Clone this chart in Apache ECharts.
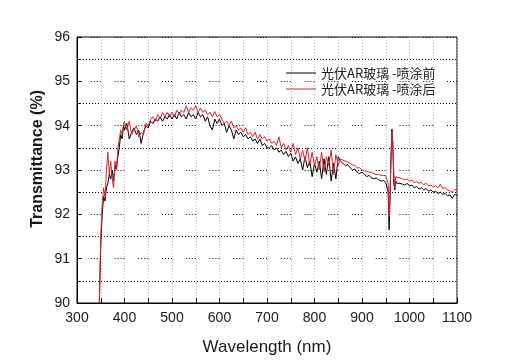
<!DOCTYPE html>
<html><head><meta charset="utf-8">
<script src="https://cdn.jsdelivr.net/npm/echarts@6/dist/echarts.min.js"></script>
<style>html,body{margin:0;padding:0;background:#fff;}#c{width:511px;height:361px;}</style>
</head><body><div id="c"></div>
<script>
var wavelengths = [347,350,353,356,359,362,365,368,371,374,377,380,383,386,389,392,395,398,
400,405,410,415,420,425,430,435,440,445,450,455,460,465,470,475,480,485,490,495,500,
505,510,515,520,525,530,535,540,545,550,555,560,565,570,575,580,585,590,595,600,
605,610,615,620,625,630,635,640,645,650,655,660,665,670,675,680,685,690,695,700,
705,710,715,720,725,730,735,740,745,750,755,760,765,770,775,780,785,790,795,800,
805,810,815,820,825,830,835,840,845,850,855,
860,865,870,875,880,885,890,895,900,905,910,915,920,925,930,935,940,945,950,
953,955,957,959,961,963,965,967,969,971,973,975,
980,985,990,995,1000,1005,1010,1015,1020,1025,1030,1035,1040,1045,1050,1055,1060,1065,1070,1075,1080,1085,1090,1095,1100];

var before = [90.0,91.3,92.0,92.4,92.3,92.6,92.7,92.9,92.8,93.0,92.75,93.1,93.0,93.3,93.5,93.8,93.7,94.0,
93.9,94.05,93.7,93.85,93.95,93.8,93.9,93.6,93.85,94.0,93.95,94.1,94.05,94.15,94.1,94.2,94.1,94.2,94.15,94.25,94.15,
94.25,94.15,94.3,94.2,94.25,94.15,94.3,94.2,94.25,94.15,94.3,94.2,94.25,94.1,94.2,94.0,93.9,94.15,94.05,94.15,
94.0,94.05,93.85,94.0,93.9,93.7,93.9,93.8,93.85,93.75,93.8,93.7,93.75,93.65,93.7,93.6,93.7,93.55,93.6,93.5,
93.5,93.55,93.45,93.5,93.4,93.45,93.35,93.42,93.3,93.38,93.2,93.3,93.15,93.25,93.0,93.3,93.05,93.2,92.85,93.15,
92.95,93.2,92.8,93.25,92.9,93.3,92.75,93.15,92.8,93.3,93.2,
93.15,93.1,93.12,93.05,93.0,93.02,92.95,92.92,92.95,92.9,92.85,92.88,92.82,92.8,92.82,92.78,92.75,92.76,92.72,
92.72,92.5,91.65,92.3,93.3,93.92,93.5,92.7,92.55,92.75,92.7,92.72,
92.7,92.68,92.66,92.7,92.64,92.66,92.6,92.63,92.57,92.6,92.55,92.58,92.52,92.55,92.5,92.52,92.47,92.5,92.45,92.47,92.42,92.44,92.36,92.45,92.42];

var after = [90.0,91.5,92.2,92.6,92.4,93.0,93.4,92.9,93.2,92.8,92.6,93.2,93.0,93.5,93.7,93.9,93.8,94.05,
94.1,93.9,94.1,93.8,93.9,94.0,93.75,93.85,93.8,94.05,94.0,94.15,94.2,94.1,94.25,94.15,94.3,94.2,94.3,94.2,94.3,
94.2,94.35,94.25,94.35,94.3,94.45,94.3,94.4,94.35,94.45,94.3,94.4,94.3,94.35,94.25,94.3,94.2,94.32,94.2,94.25,
94.15,94.05,94.1,94.0,94.1,93.95,94.0,93.9,93.95,93.85,93.95,93.8,93.85,93.75,93.85,93.7,93.8,93.7,93.75,93.65,
93.7,93.6,93.65,93.55,93.75,93.5,93.6,93.45,93.55,93.4,93.6,93.35,93.5,93.25,93.45,93.2,93.5,93.1,93.4,93.1,
93.3,93.0,93.4,92.95,93.3,93.1,93.45,92.9,93.35,93.1,93.25,
93.22,93.2,93.18,93.15,93.12,93.1,93.05,93.05,93.0,92.98,92.97,92.95,92.95,92.92,92.9,92.9,92.88,92.88,92.87,
92.87,92.7,91.95,92.5,93.2,93.85,93.6,92.9,92.6,92.85,92.82,92.84,
92.82,92.8,92.78,92.8,92.75,92.77,92.72,92.74,92.7,92.72,92.67,92.7,92.64,92.66,92.62,92.64,92.6,92.68,92.58,92.6,92.55,92.53,92.5,92.56,92.54];

var seriesNames = ['光伏AR玻璃 -喷涂前', '光伏AR玻璃 -喷涂后'];
var xTicks = [300, 1100, 100];
var yTicks = [90, 96, 1];

function pairs(xs, ys){ return xs.map(function(x,i){ return [x, ys[i]]; }); }

var chart = echarts.init(document.getElementById('c'), null, {renderer:'canvas'});
chart.setOption({
  animation: false,
  backgroundColor: '#fff',
  grid: {left: 77, right: 54, top: 37, bottom: 57, show: true, borderColor: '#000', borderWidth: 1, backgroundColor: 'transparent'},
  legend: {
    data: seriesNames, orient: 'vertical', left: 281, top: 61, itemWidth: 30, itemHeight: 1, itemGap: 2,
    icon: 'rect',
    textStyle: {fontSize: 13, color: '#222', fontFamily: 'Noto Sans CJK SC', lineHeight: 14}
  },
  xAxis: {
    type: 'value', min: xTicks[0], max: xTicks[1], interval: xTicks[2],
    axisLine: {lineStyle: {color: '#000', width: 1}},
    axisTick: {inside: true, length: 5, lineStyle: {color: '#000'}},
    minorTick: {show: true, splitNumber: 2, length: 5, lineStyle: {color: '#000'}},
    axisLabel: {fontSize: 14, color: '#1a1a1a', margin: 8, fontFamily: 'Liberation Sans', formatter: function(v){ return String(v); }},
    splitLine: {show: true, lineStyle: {color: '#bbb', type: [1, 2], width: 1}},
    minorSplitLine: {show: true, lineStyle: {color: '#bbb', type: [1, 2], width: 1}},
    name: 'Wavelength (nm)', nameLocation: 'middle', nameGap: 36,
    nameTextStyle: {fontSize: 17, color: '#1a1a1a', fontFamily: 'Liberation Sans'}
  },
  yAxis: {
    type: 'value', min: yTicks[0], max: yTicks[1], interval: yTicks[2],
    axisLine: {lineStyle: {color: '#000', width: 1}},
    axisTick: {inside: true, length: 5, lineStyle: {color: '#000'}},
    minorTick: {show: true, splitNumber: 2, length: 3, lineStyle: {color: '#000'}},
    axisLabel: {fontSize: 14, color: '#1a1a1a', margin: 7, fontFamily: 'Liberation Sans'},
    splitLine: {show: true, lineStyle: {color: '#000', type: [1,2,1,2,1,2,1,13.75], dashOffset: 10, width: 1}},
    minorSplitLine: {show: true, lineStyle: {color: '#000', type: [1, 2], width: 1}}
  },
  graphic: [{
    type: 'text', left: 30, top: 90, rotation: Math.PI/2,
    style: {text: 'Transmittance (%)', fontSize: 16, fontWeight: 'bold', fill: '#1a1a1a', fontFamily: 'Liberation Sans'}
  }],
  series: [
    {name: seriesNames[0], type: 'line', data: pairs(wavelengths, before), showSymbol: false, symbol: 'none',
     lineStyle: {color: '#000', width: 1}, itemStyle: {color: '#000'}, clip: true},
    {name: seriesNames[1], type: 'line', data: pairs(wavelengths, after), showSymbol: false, symbol: 'none',
     lineStyle: {color: '#d9232a', width: 1}, itemStyle: {color: '#d9232a'}, clip: true}
  ]
});
</script></body></html>
